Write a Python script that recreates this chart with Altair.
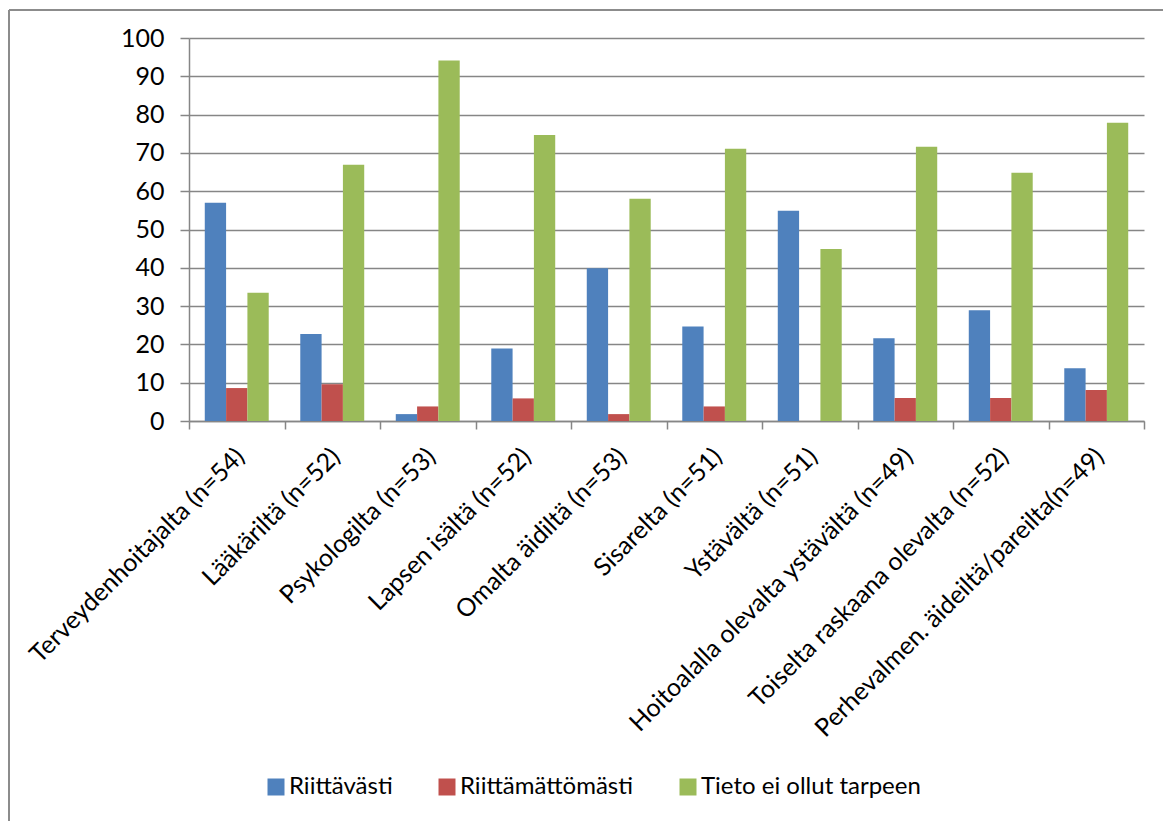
import altair as alt
import pandas as pd

# Survey sources of information (percent of respondents)
categories = [
    "Terveydenhoitajalta (n=54)",
    "Lääkäriltä (n=52)",
    "Psykologilta (n=53)",
    "Lapsen isältä (n=52)",
    "Omalta äidiltä (n=53)",
    "Sisarelta (n=51)",
    "Ystävältä  (n=51)",
    "Hoitoalalla olevalta ystävältä  (n=49)",
    "Toiselta raskaana  olevalta (n=52)",
    "Perhevalmen. äideiltä/pareilta(n=49)",
]
series = ["Riittävästi", "Riittämättömästi", "Tieto ei ollut tarpeen"]
riittavasti = [57.0, 22.7, 1.8, 18.9, 39.9, 24.7, 54.9, 21.6, 28.9, 13.8]
riittamattomasti = [8.6, 9.6, 3.8, 5.9, 1.8, 3.8, 0.0, 6.0, 6.0, 8.1]
ei_tarpeen = [33.5, 66.9, 94.1, 74.7, 58.0, 71.1, 44.9, 71.6, 64.8, 77.9]
y_ticks = [0, 10, 20, 30, 40, 50, 60, 70, 80, 90, 100]
colors = ["#4F81BD", "#C0504D", "#9BBB59"]

rows = []
for values, name in zip([riittavasti, riittamattomasti, ei_tarpeen], series):
    for cat, v in zip(categories, values):
        rows.append({"lahde": cat, "sarja": name, "osuus": v})
df = pd.DataFrame(rows)

FONT = "Lato"
GRAY = "#868686"

bars = alt.Chart(df).mark_bar().encode(
    x=alt.X(
        "lahde:N",
        sort=categories,
        title=None,
        scale=alt.Scale(paddingInner=0, paddingOuter=0),
        axis=alt.Axis(
            labelAngle=-45,
            labelAlign="right",
            labelBaseline="middle",
            labelFontSize=25,
            labelFont=FONT,
            labelColor="#000000",
            labelPadding=23,
            labelOffset=3,
            labelLimit=600,
            tickBand="extent",
            tickSize=8,
            tickColor=GRAY,
            tickWidth=1.5,
            domainColor=GRAY,
            domainWidth=1.5,
            grid=False,
        ),
    ),
    xOffset=alt.XOffset(
        "sarja:N",
        sort=series,
        scale=alt.Scale(paddingInner=0, paddingOuter=0.74),
    ),
    y=alt.Y(
        "osuus:Q",
        title=None,
        scale=alt.Scale(domain=[0, 100], nice=False),
        axis=alt.Axis(
            values=y_ticks,
            labelFontSize=25,
            labelFont=FONT,
            labelColor="#000000",
            labelPadding=16,
            tickSize=9,
            tickColor=GRAY,
            tickWidth=1.5,
            domainColor=GRAY,
            domainWidth=1.5,
            grid=True,
            gridColor=GRAY,
            gridWidth=1.5,
        ),
    ),
    color=alt.Color(
        "sarja:N",
        sort=series,
        scale=alt.Scale(domain=series, range=colors),
        legend=alt.Legend(
            title=None,
            orient="none",
            direction="horizontal",
            legendX=75,
            legendY=737,
            symbolType="square",
            symbolSize=289,
            symbolStrokeWidth=0,
            labelFontSize=24,
            labelFont=FONT,
            labelColor="#000000",
            labelOffset=1,
            columnPadding=42,
            padding=0,
            labelLimit=400,
        ),
    ),
)

# Outer frame of the chart (top and left edges)
one = alt.Data(values=[{}])
frame_top = alt.Chart(one).mark_rule(color="#8c8c8c", strokeWidth=2).encode(
    x=alt.value(-180), x2=alt.value(1100), y=alt.value(-28)
)
frame_left = alt.Chart(one).mark_rule(color="#8c8c8c", strokeWidth=2).encode(
    x=alt.value(-180), y=alt.value(-28), y2=alt.value(900)
)

chart = (
    alt.layer(bars, frame_top, frame_left)
    .properties(
        width=955,
        height=383,
        autosize=alt.AutoSizeParams(type="none"),
        padding={"left": 189, "top": 38, "right": 19, "bottom": 400},
        background="#ffffff",
    )
    .configure_view(stroke="transparent")
)

chart.save("out.html", embed_options={"renderer": "svg", "actions": False})
